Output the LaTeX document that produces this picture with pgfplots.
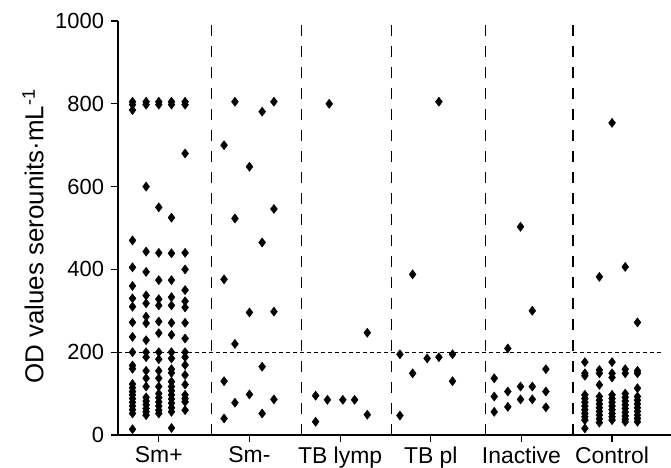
\documentclass[border=0pt]{standalone}
\usepackage{pgfplots}
\pgfplotsset{compat=1.18}
\usepackage{pgfplotstable}
\usepackage{fontspec}
\setmainfont{Liberation Sans}

\pgfplotsset{
  pt/.style={black, only marks, mark=diamond*, mark size=2.3bp,
    mark options={draw=black, fill=black, line width=0.2bp}},
  sep/.style={black, line width=0.65bp, dash pattern=on 5.5bp off 5bp},
}

% x = group index + jitter offset, y = OD value
\pgfplotstableread{
x y
-0.29 805
-0.29 798
-0.29 785
-0.29 470
-0.29 405
-0.29 360
-0.29 330
-0.29 310
-0.29 272
-0.29 237
-0.29 200
-0.29 168
-0.29 160
-0.29 123
-0.29 114
-0.29 105
-0.29 97
-0.29 88
-0.29 79
-0.29 70
-0.29 61
-0.29 52
-0.29 14
-0.14 805
-0.14 798
-0.14 600
-0.14 443
-0.14 394
-0.14 337
-0.14 318
-0.14 286
-0.14 270
-0.14 229
-0.14 200
-0.14 188
-0.14 155
-0.14 137
-0.14 117
-0.14 91
-0.14 82
-0.14 73
-0.14 64
-0.14 56
-0.14 48
0 805
0 798
0 550
0 440
0 374
0 328
0 313
0 274
0 246
0 200
0 183
0 155
0 137
0 117
0 100
0 90
0 80
0 70
0 60
0 52
0.14 805
0.14 798
0.14 525
0.14 439
0.14 374
0.14 333
0.14 313
0.14 271
0.14 242
0.14 200
0.14 185
0.14 159
0.14 150
0.14 129
0.14 117
0.14 107
0.14 97
0.14 87
0.14 77
0.14 66
0.14 56
0.14 17
0.29 805
0.29 798
0.29 680
0.29 440
0.29 400
0.29 350
0.29 323
0.29 308
0.29 271
0.29 233
0.29 200
0.29 188
0.29 169
0.29 145
0.29 122
0.29 97
0.29 88
0.29 80
0.29 60
}\smpos

\pgfplotstableread{
x y
0.72 700
0.72 376
0.72 130
0.72 40
0.84 805
0.84 523
0.84 220
0.84 78
1.0 648
1.0 296
1.0 98
1.14 781
1.14 465
1.14 165
1.14 52
1.27 805
1.27 546
1.27 298
1.27 86
}\smneg

\pgfplotstableread{
x y
1.88 800
2.30 247
1.73 95
1.86 85
2.03 85
2.16 85
2.30 49
1.73 32
}\tblymp

\pgfplotstableread{
x y
2.80 388
2.66 195
2.80 149
2.66 47
3.09 805
2.96 185
3.09 188
3.24 195
3.24 130
}\tbpl

\pgfplotstableread{
x y
3.85 209
3.99 503
4.12 300
4.27 159
3.70 137
3.70 93
3.70 56
3.85 105
3.85 68
3.99 117
3.99 86
4.12 117
4.12 86
4.27 105
4.27 67
}\inactive

\pgfplotstableread{
x y
4.70 176
4.70 149
4.70 143
4.70 97
4.70 88
4.70 79
4.70 70
4.70 61
4.70 52
4.70 44
4.70 36
4.70 16
4.86 382
4.86 157
4.86 149
4.86 121
4.86 93
4.86 84
4.86 75
4.86 66
4.86 57
4.86 48
4.86 39
4.86 30
5.0 754
5.0 176
5.0 149
5.0 139
5.0 97
5.0 88
5.0 79
5.0 70
5.0 61
5.0 52
5.0 44
5.0 36
5.145 406
5.145 159
5.145 149
5.145 100
5.145 91
5.145 82
5.145 73
5.145 64
5.145 55
5.145 46
5.145 38
5.145 32
5.28 272
5.28 155
5.28 149
5.28 113
5.28 93
5.28 84
5.28 75
5.28 66
5.28 57
5.28 48
5.28 40
5.28 32
}\control

\begin{document}
\begin{tikzpicture}[font=\fontsize{11}{13}\selectfont]
\begin{axis}[
  width=276.5bp, height=207bp, scale only axis,
  xmin=-0.45, xmax=5.65,
  ymin=0, ymax=1000,
  axis x line*=bottom,
  axis y line*=left,
  axis line style={line width=0.7bp},
  tick style={black, line width=0.6bp},
  tick align=outside,
  major tick length=3.5bp,
  xtick={0,1,2,3,4,5},
  xticklabels={Sm+, Sm-, TB lymp, TB pl, Inactive, Control},
  xticklabel style={font=\fontsize{11.5}{13}\selectfont, yshift=1.2bp},
  ytick={0,200,400,600,800,1000},
  /pgf/number format/assume math mode=true,
  /pgf/number format/1000 sep={},
  ylabel={OD values serounits·mL\textsuperscript{-1}},
  ylabel style={font=\fontsize{13}{15}\selectfont,
    at={(axis description cs:0,0.48)}, anchor=center, yshift=42.5bp},
  clip=false,
]
% group separators and cut-off line
\addplot[sep] coordinates {(0.585,0) (0.585,1000)};
\addplot[sep] coordinates {(1.578,0) (1.578,1000)};
\addplot[sep] coordinates {(2.57,0) (2.57,1000)};
\addplot[sep] coordinates {(3.6,0) (3.6,1000)};
\addplot[sep] coordinates {(4.57,0) (4.57,1000)};
\addplot[black, line width=0.5bp, dash pattern=on 2bp off 1.5bp] coordinates {(-0.45,200) (5.56,200)};

\addplot[pt] table {\smpos};
\addplot[pt] table {\smneg};
\addplot[pt] table {\tblymp};
\addplot[pt] table {\tbpl};
\addplot[pt] table {\inactive};
\addplot[pt] table {\control};

\coordinate (ll) at (rel axis cs:0,0);
\coordinate (ur) at (rel axis cs:1,1);
\end{axis}
\pgfresetboundingbox
\path ([shift={(-59bp,-16.5bp)}]ll) rectangle ([shift={(0bp,10.5bp)}]ur);
\end{tikzpicture}
\end{document}
